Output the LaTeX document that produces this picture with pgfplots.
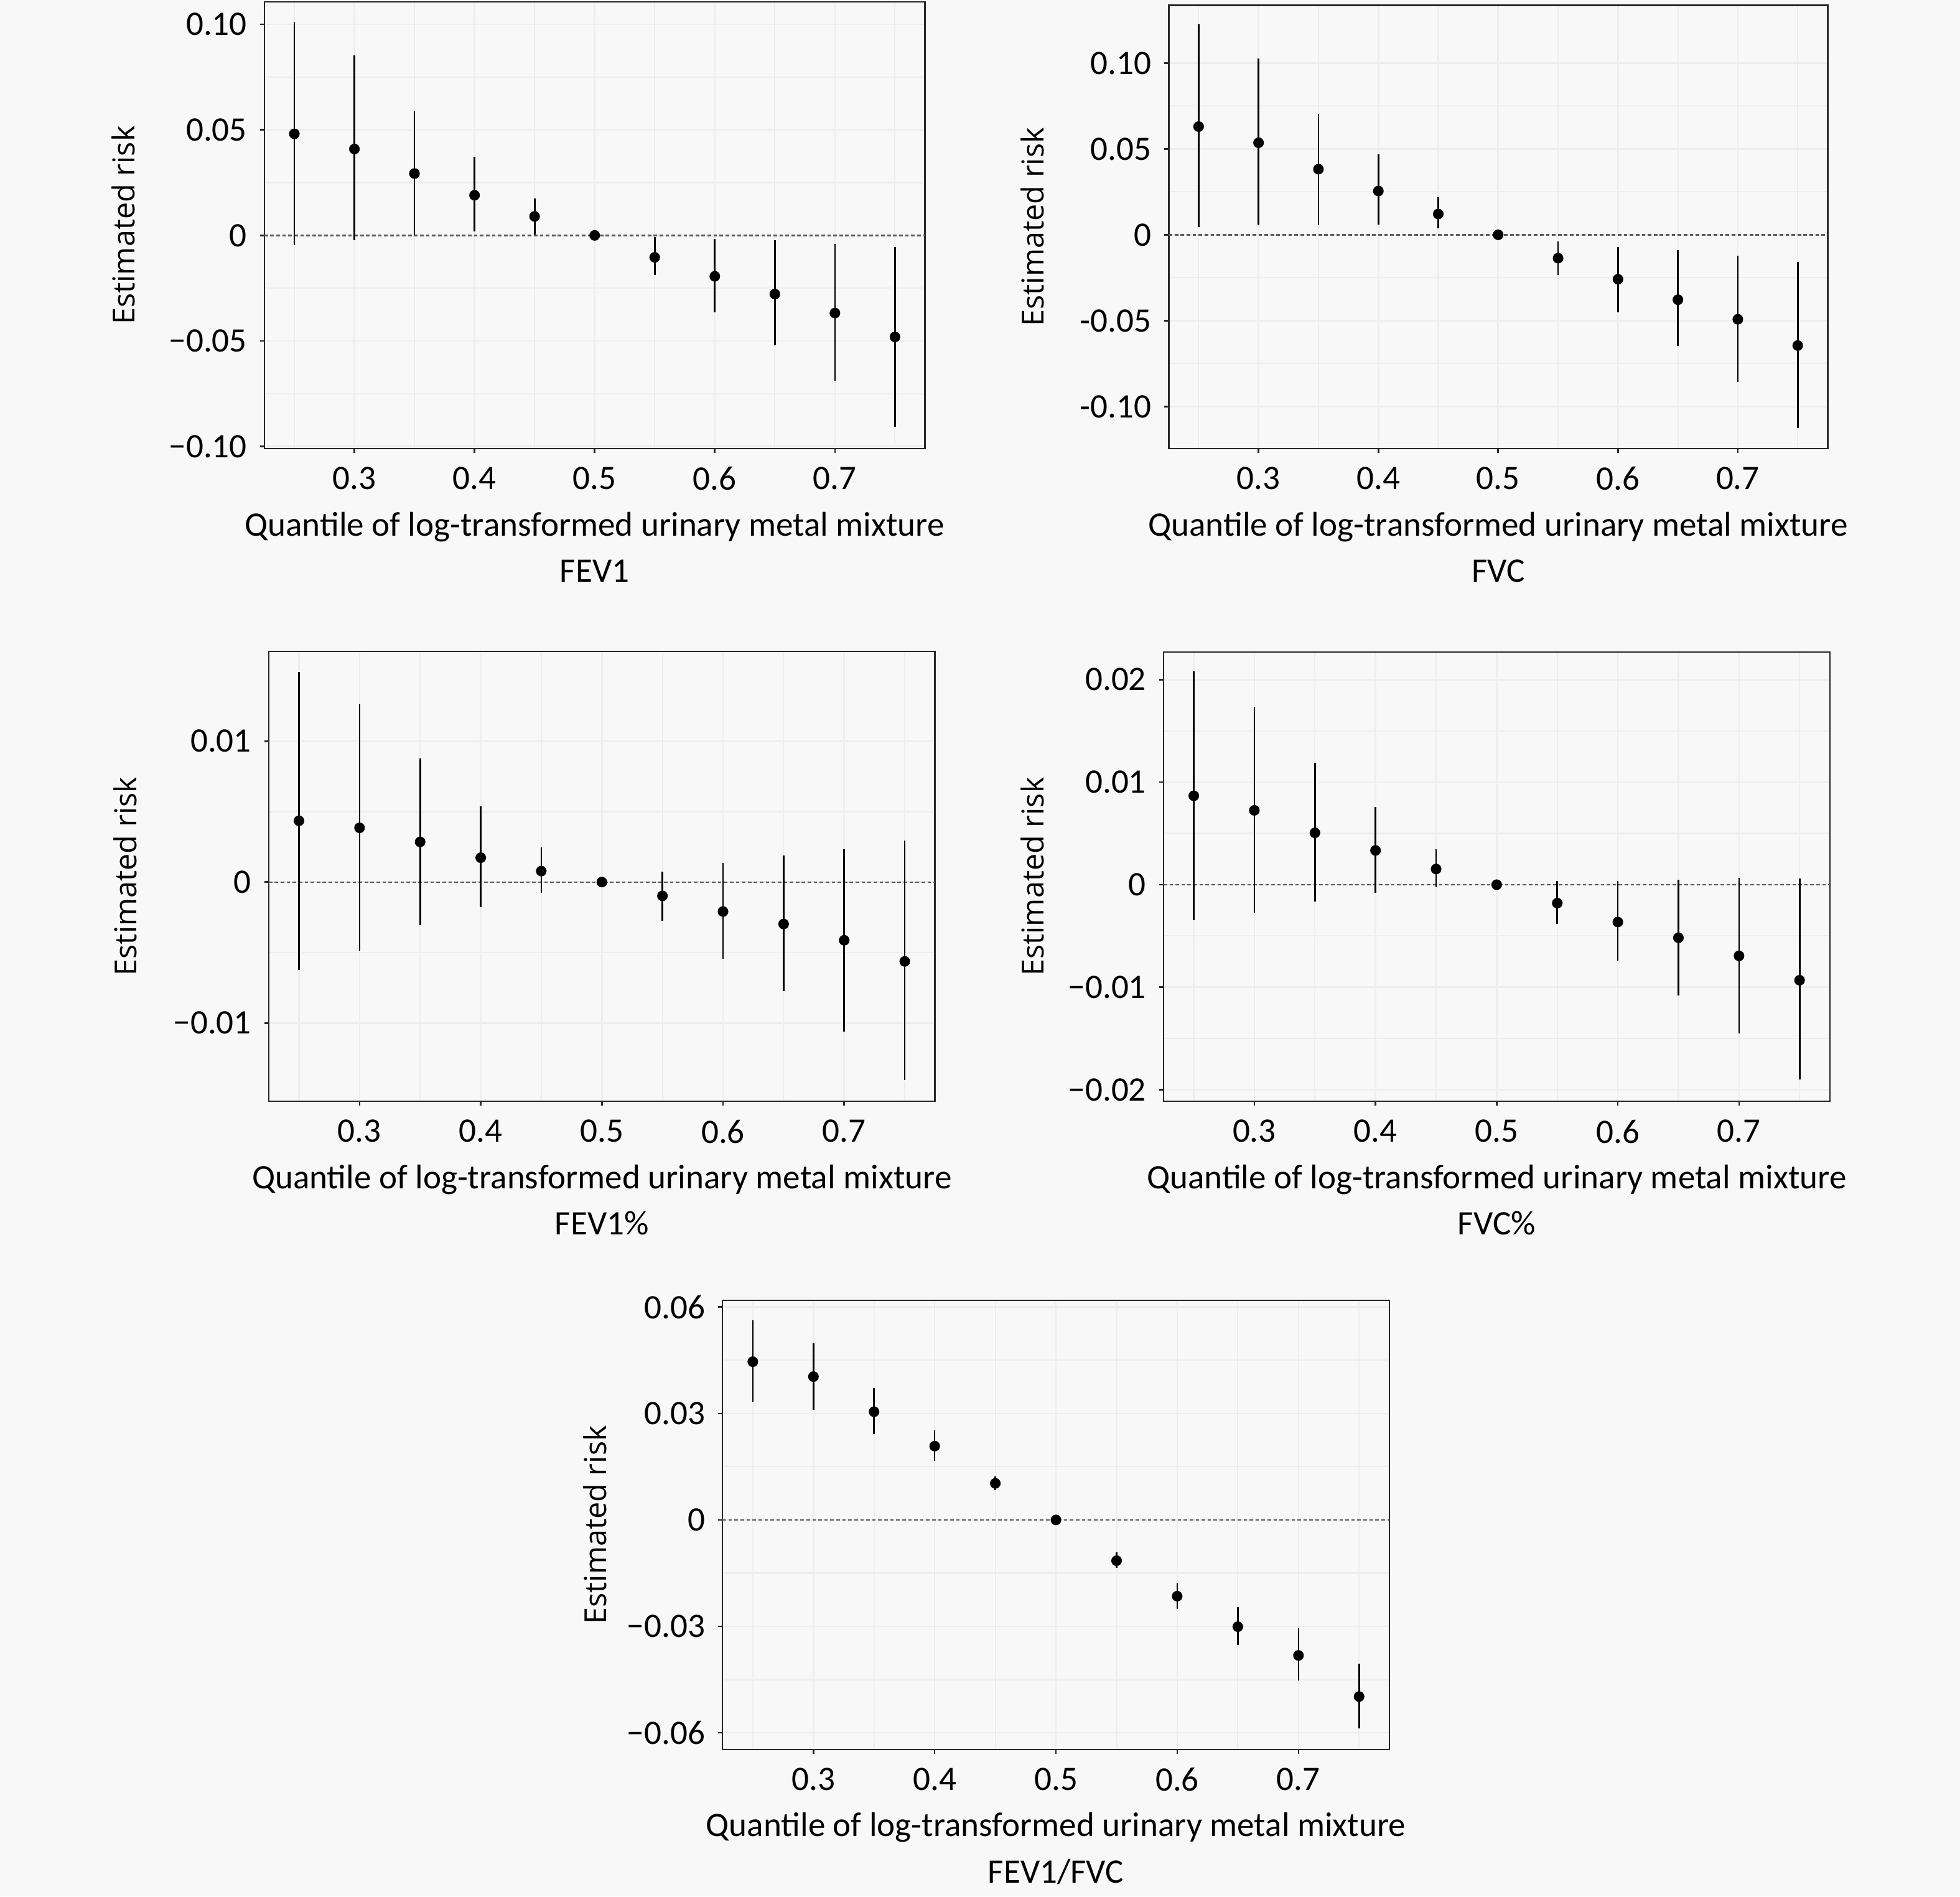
\documentclass[border=0pt]{standalone}
\usepackage{fontspec}
\setmainfont{Carlito}
\newfontfamily\ylfont{Open Sans}
\usepackage{pgfplots}
\usepackage{pgfplotstable}
\pgfplotsset{compat=1.18}
\definecolor{bg}{RGB}{248,248,248}
\definecolor{gridc}{RGB}{238,238,238}
\definecolor{zl}{RGB}{90,90,90}
\definecolor{frame}{RGB}{40,40,40}

\pgfplotstableread{
x y lo hi
0.25 0.0481 -0.0045 0.1010
0.30 0.0409 -0.0023 0.0853
0.35 0.0293 0.0000 0.0589
0.40 0.0190 0.0018 0.0372
0.45 0.0090 0.0005 0.0176
0.50 0.0000 0.0000 0.0000
0.55 -0.0104 -0.0189 -0.0009
0.60 -0.0194 -0.0364 -0.0018
0.65 -0.0278 -0.0521 -0.0023
0.70 -0.0368 -0.0688 -0.0041
0.75 -0.0481 -0.0907 -0.0054
}\tFEVone

\pgfplotstableread{
x y lo hi
0.25 0.0630 0.0044 0.1225
0.30 0.0536 0.0057 0.1027
0.35 0.0382 0.0059 0.0705
0.40 0.0255 0.0059 0.0468
0.45 0.0121 0.0037 0.0220
0.50 0.0000 0.0000 0.0000
0.55 -0.0136 -0.0235 -0.0037
0.60 -0.0259 -0.0450 -0.0070
0.65 -0.0378 -0.0648 -0.0088
0.70 -0.0492 -0.0856 -0.0121
0.75 -0.0645 -0.1124 -0.0158
}\tFVC

\pgfplotstableread{
x y lo hi
0.25 0.00435 -0.00622 0.01492
0.30 0.00385 -0.00488 0.01261
0.35 0.00285 -0.00307 0.00879
0.40 0.00173 -0.00176 0.00538
0.45 0.00078 -0.00075 0.00248
0.50 0.00000 0.00000 0.00000
0.55 -0.00098 -0.00273 0.00073
0.60 -0.00209 -0.00544 0.00134
0.65 -0.00298 -0.00775 0.00187
0.70 -0.00413 -0.01060 0.00234
0.75 -0.00563 -0.01403 0.00293
}\tFEVonePct

\pgfplotstableread{
x y lo hi
0.25 0.00867 -0.00349 0.02079
0.30 0.00725 -0.00272 0.01733
0.35 0.00506 -0.00165 0.01189
0.40 0.00334 -0.00081 0.00756
0.45 0.00153 -0.00023 0.00345
0.50 0.00000 0.00000 0.00000
0.55 -0.00180 -0.00380 0.00035
0.60 -0.00364 -0.00740 0.00035
0.65 -0.00518 -0.01078 0.00046
0.70 -0.00694 -0.01450 0.00065
0.75 -0.00932 -0.01902 0.00058
}\tFVCPct

\pgfplotstableread{
x y lo hi
0.25 0.0446 0.0333 0.0562
0.30 0.0404 0.0310 0.0498
0.35 0.0305 0.0241 0.0372
0.40 0.0208 0.0167 0.0252
0.45 0.0103 0.0084 0.0123
0.50 0.0000 0.0000 0.0000
0.55 -0.0115 -0.0135 -0.0091
0.60 -0.0215 -0.0251 -0.0177
0.65 -0.0301 -0.0353 -0.0246
0.70 -0.0382 -0.0452 -0.0306
0.75 -0.0498 -0.0588 -0.0406
}\tRatio

\newcommand\tickfont{\fontsize{12.6bp}{15bp}\selectfont}

\pgfplotsset{
  panel/.style={
    scale only axis, anchor=north west,
    xmin=0.225, xmax=0.775,
    xtick={0.3,0.4,0.5,0.6,0.7},
    xticklabels={0.3,0.4,0.5,0.6,0.7},
    minor xtick={0.25,0.35,0.45,0.55,0.65,0.75},
    minor y tick num=1,
    scaled y ticks=false, scaled x ticks=false,
    tick pos=left,
    tick align=outside,
    major tick length=1.6bp, minor tick length=0pt,
    every tick/.style={frame, line width=0.6bp},
    axis line style={frame, line width=0.6bp},
    grid=both,
    major grid style={gridc, line width=0.6bp},
    minor grid style={gridc, line width=0.5bp},
    tick label style={font=\tickfont},
    xticklabel style={anchor=north, inner sep=0pt, yshift=-5bp},
    yticklabel style={anchor=east, inner sep=0pt, xshift=-4.6bp},
    every axis x label/.style={at={(axis description cs:0.5,0)}, anchor=base, yshift=-32bp, font=\tickfont},
    every axis title/.style={at={(axis description cs:0.5,0)}, anchor=base, yshift=-49bp, font=\tickfont},
    xlabel={Quantile of log-transformed urinary metal mixture},
    ylabel={Estimated risk},
  },
  ylab/.style={every axis y label/.style={at={(axis description cs:#1,0.5)}, rotate=90, anchor=center, font=\ylfont\fontsize{11.1bp}{13bp}\selectfont}},
  ci/.style={only marks, mark=*, mark size=1.75bp, black,
    mark options={draw=black, fill=black},
    error bars/.cd, y dir=both, y explicit, error mark=none,
    error bar style={line width=0.6bp, black}},
  zero/.style={zl, line width=0.55bp, dash pattern=on 1.3bp off 0.9bp, forget plot},
}

\begin{document}
\begin{tikzpicture}
\fill[bg] (0,0) rectangle (720bp,-696.7bp);
\useasboundingbox (0,0) rectangle (720bp,-696.7bp);

% FEV1
\begin{axis}[panel, ylab=-0.213, at={(97.1bp,-0.7bp)}, width=242.7bp, height=164.1bp,
  ymin=-0.101, ymax=0.1106,
  ytick={-0.1,-0.05,0,0.05,0.1}, yticklabels={−0.10,−0.05,0,0.05,0.10},
  title={FEV1}]
\addplot[zero] coordinates {(0.225,0) (0.775,0)};
\addplot[ci] table[x=x, y=y, y error plus expr=\thisrow{hi}-\thisrow{y}, y error minus expr=\thisrow{y}-\thisrow{lo}] {\tFEVone};
\end{axis}

% FVC
\begin{axis}[panel, ylab=-0.2065, at={(429.3bp,-1.9bp)}, width=242.1bp, height=162.9bp,
  ymin=-0.1245, ymax=0.1337,
  ytick={-0.1,-0.05,0,0.05,0.1}, yticklabels={-0.10,-0.05,0,0.05,0.10},
  title={FVC}]
\addplot[zero] coordinates {(0.225,0) (0.775,0)};
\addplot[ci] table[x=x, y=y, y error plus expr=\thisrow{hi}-\thisrow{y}, y error minus expr=\thisrow{y}-\thisrow{lo}] {\tFVC};
\end{axis}

% FEV1%
\begin{axis}[panel, ylab=-0.2157, at={(98.7bp,-239.3bp)}, width=244.8bp, height=165.3bp,
  ymin=-0.01556, ymax=0.01637,
  ytick={-0.01,0,0.01}, yticklabels={−0.01,0,0.01},
  title={FEV1\%}]
\addplot[zero] coordinates {(0.225,0) (0.775,0)};
\addplot[ci] table[x=x, y=y, y error plus expr=\thisrow{hi}-\thisrow{y}, y error minus expr=\thisrow{y}-\thisrow{lo}] {\tFEVonePct};
\end{axis}

% FVC%
\begin{axis}[panel, ylab=-0.197, at={(427.4bp,-239.5bp)}, width=244.8bp, height=165.1bp,
  ymin=-0.02113, ymax=0.0227,
  ytick={-0.02,-0.01,0,0.01,0.02}, yticklabels={−0.02,−0.01,0,0.01,0.02},
  title={FVC\%}]
\addplot[zero] coordinates {(0.225,0) (0.775,0)};
\addplot[ci] table[x=x, y=y, y error plus expr=\thisrow{hi}-\thisrow{y}, y error minus expr=\thisrow{y}-\thisrow{lo}] {\tFVCPct};
\end{axis}

% FEV1/FVC
\begin{axis}[panel, ylab=-0.1914, at={(265.4bp,-477.7bp)}, width=245.0bp, height=165.0bp,
  ymin=-0.0647, ymax=0.0619,
  ytick={-0.06,-0.03,0,0.03,0.06}, yticklabels={−0.06,−0.03,0,0.03,0.06},
  title={FEV1/FVC}]
\addplot[zero] coordinates {(0.225,0) (0.775,0)};
\addplot[ci] table[x=x, y=y, y error plus expr=\thisrow{hi}-\thisrow{y}, y error minus expr=\thisrow{y}-\thisrow{lo}] {\tRatio};
\end{axis}
\end{tikzpicture}
\end{document}
